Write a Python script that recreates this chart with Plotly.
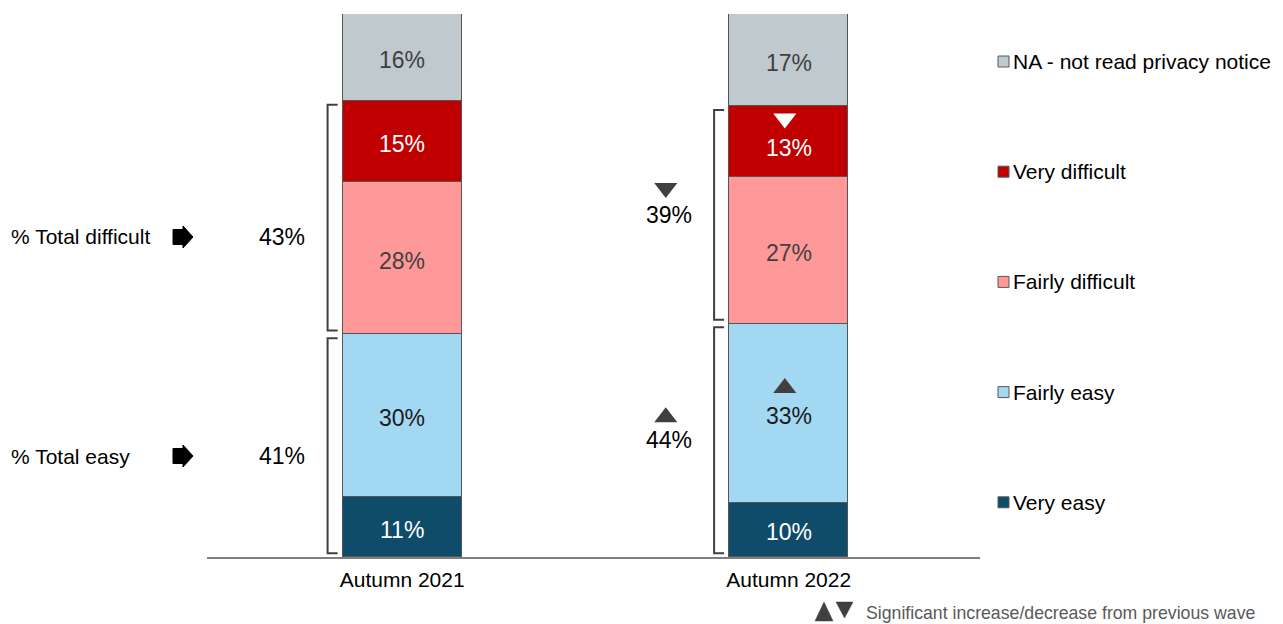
import plotly.graph_objects as go

# data
waves = ["Autumn 2021", "Autumn 2022"]
series = ["Very easy", "Fairly easy", "Fairly difficult", "Very difficult",
          "NA - not read privacy notice"]
very_easy = [11, 10]
fairly_easy = [30, 33]
fairly_difficult = [28, 27]
very_difficult = [15, 13]
na_not_read = [16, 17]
total_easy = [41, 44]
total_difficult = [43, 39]
# significance vs previous wave: 1 = up, -1 = down, 0 = none
sig_fairly_easy = [0, 1]
sig_very_difficult = [0, -1]
sig_total_easy = [0, 1]
sig_total_difficult = [0, -1]
row_labels = ["% Total difficult", "% Total easy"]
footnote = "Significant increase/decrease from previous wave"

values = [very_easy, fairly_easy, fairly_difficult, very_difficult, na_not_read]
colors = ["#0F4C69", "#A3D8F2", "#FF9999", "#C00000", "#BFC9CE"]
text_colors = ["#FFFFFF", "#1A1A1A", "#404040", "#FFFFFF", "#404040"]

FONT = "Liberation Sans, Arial, sans-serif"
OFF = 8  # page body margin
W, H = 1275, 616
L, T = 207 - OFF, 14 - OFF
R, B = W - (980 - OFF), H - (557 - OFF)
PW, PH = W - L - R, H - T - B
BAR_W = 0.308


# helpers take pixel positions measured on the screenshot
def px_x(px):
    return (px - OFF - L) / PW


def px_y(py):
    return (H - B - (py - OFF)) / PH


def d_px(d):
    # pixel distance to y data units
    return d * 100 / PH


fig = go.Figure()
for name, vals, col in zip(series, values, colors):
    fig.add_trace(go.Bar(
        x=[0, 1], y=vals, name=name, width=BAR_W,
        marker=dict(color=col, line=dict(color="#555555", width=1.2)),
        showlegend=False, hoverinfo="skip",
    ))

shapes = []
annotations = []

# segment labels (centred in each segment)
seg_sig = [None, sig_fairly_easy, None, sig_very_difficult, None]
for i in range(len(waves)):
    base = 0
    for vals, tcol, sig in zip(values, text_colors, seg_sig):
        v = vals[i]
        shift = -2.5
        if sig is not None and sig[i] < 0:
            shift = -6
        annotations.append(dict(text=f"{v}%", x=i, y=base + v / 2, xref="x", yref="y",
                                showarrow=False, xanchor="center", yanchor="middle",
                                yshift=shift,
                                font=dict(family=FONT, size=23, color=tcol)))
        base += v

# brackets around easy / difficult groups
inset = 0.7
for i in range(len(waves)):
    easy_top = very_easy[i] + fairly_easy[i]
    diff_top = easy_top + fairly_difficult[i] + very_difficult[i]
    x0 = i - BAR_W / 2 - 0.039
    x1 = i - BAR_W / 2 - 0.013
    for lo, hi in [(0, easy_top), (easy_top, diff_top)]:
        top, bot = hi - inset, max(lo + inset, 0.55)
        shapes.append(dict(type="path", xref="x", yref="y",
                           path=f"M {x1},{top} L {x0},{top} L {x0},{bot} L {x1},{bot}",
                           line=dict(color="#404040", width=2)))

# row labels + block arrows on the left
row_py = [237, 456]
for lab, py in zip(row_labels, row_py):
    annotations.append(dict(text=lab, xref="paper", yref="paper", x=px_x(9), y=px_y(py),
                            xanchor="left", yanchor="middle", showarrow=False,
                            font=dict(family=FONT, size=21, color="#000000")))
    pts = [(173, py - 7.5), (183, py - 7.5), (183, py - 11), (193, py), (183, py + 11),
           (183, py + 7.5), (173, py + 7.5)]
    path = "M " + " L ".join(f"{px_x(a)},{px_y(b)}" for a, b in pts) + " Z"
    shapes.append(dict(type="path", xref="paper", yref="paper", path=path,
                       fillcolor="#000000", line=dict(color="#000000", width=1)))

# totals next to the bars, with significance triangles
tri_x, tri_y, tri_sym, tri_col = [], [], [], []
for i in range(len(waves)):
    easy_top = very_easy[i] + fairly_easy[i]
    diff_top = easy_top + fairly_difficult[i] + very_difficult[i]
    lx = i - 0.31
    for tot, sig, lo, hi, k in [(total_difficult[i], sig_total_difficult[i], easy_top, diff_top, 0),
                                (total_easy[i], sig_total_easy[i], 0, easy_top, 1)]:
        if sig == 0:
            ly = px_y(row_py[k]) * 100
        else:
            ly = (lo + hi) / 2
        annotations.append(dict(text=f"{tot}%", x=lx, y=ly, xref="x", yref="y",
                                showarrow=False, xanchor="center", yanchor="middle",
                                font=dict(family=FONT, size=23, color="#000000")))
        if sig != 0:
            tri_x.append(lx - 0.008)
            tri_y.append(ly + d_px(27 if sig < 0 else 23))
            tri_sym.append("triangle-down" if sig < 0 else "triangle-up")
            tri_col.append("#404040")

    # in-bar significance
    for sig, lo, seg, col in [(sig_fairly_easy[i], very_easy[i], fairly_easy[i], "#404040"),
                              (sig_very_difficult[i], easy_top + fairly_difficult[i],
                               very_difficult[i], "#FFFFFF")]:
        if sig != 0:
            c = lo + seg / 2
            tri_x.append(i - 0.01)
            tri_y.append(c + d_px(23 if sig < 0 else 25))
            tri_sym.append("triangle-down" if sig < 0 else "triangle-up")
            tri_col.append(col)

fig.add_trace(go.Scatter(x=tri_x, y=tri_y, mode="markers", showlegend=False, hoverinfo="skip",
                         cliponaxis=False,
                         marker=dict(symbol=tri_sym, size=20, color=tri_col, line=dict(width=0))))

# legend on the right, drawn by hand to get the wide spacing
for k, (name, col) in enumerate(zip(series[::-1], colors[::-1])):
    cy = 61.5 + k * 110.2
    shapes.append(dict(type="rect", xref="paper", yref="paper",
                       x0=px_x(998), x1=px_x(1009), y0=px_y(cy - 5.5), y1=px_y(cy + 5.5),
                       fillcolor=col, line=dict(color="#595959", width=1)))
    annotations.append(dict(text=name, xref="paper", yref="paper", x=px_x(1011), y=px_y(cy),
                            xanchor="left", yanchor="middle", showarrow=False,
                            font=dict(family=FONT, size=21, color="#000000")))

# footnote
for pts in [[(815, 621), (833, 621), (824, 602)], [(836, 602), (853, 602), (844.5, 618)]]:
    path = "M " + " L ".join(f"{px_x(a)},{px_y(b)}" for a, b in pts) + " Z"
    shapes.append(dict(type="path", xref="paper", yref="paper", path=path,
                       fillcolor="#404040", line=dict(color="#404040", width=0.5)))
annotations.append(dict(text=footnote, xref="paper", yref="paper", x=px_x(864), y=px_y(613),
                        xanchor="left", yanchor="middle", showarrow=False,
                        font=dict(family=FONT, size=17.7, color="#595959")))

fig.update_layout(
    width=W, height=H, autosize=False,
    margin=dict(l=L, r=R, t=T, b=B),
    barmode="stack", bargap=0,
    paper_bgcolor="white", plot_bgcolor="white",
    font=dict(family=FONT),
    shapes=shapes, annotations=annotations,
    xaxis=dict(range=[-0.505, 1.495], tickvals=[0, 1], ticktext=waves, showgrid=False,
               zeroline=False, showline=True, linecolor="#7F7F7F", linewidth=1.5,
               ticks="", ticklabelstandoff=3,
               tickfont=dict(family=FONT, size=21, color="#000000")),
    yaxis=dict(range=[0, 100], visible=False, showgrid=False, zeroline=False),
)

fig.write_html("out.html")
